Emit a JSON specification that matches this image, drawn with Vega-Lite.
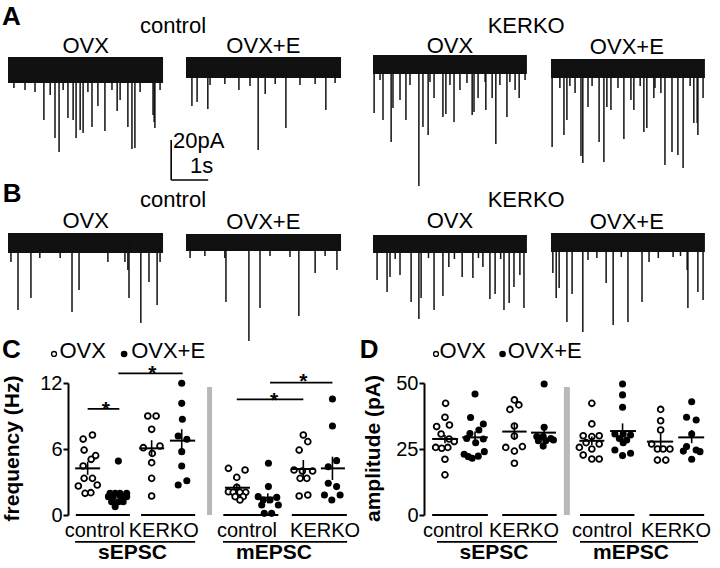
{
"$schema":"https://vega.github.io/schema/vega-lite/v6.json",
"width":720,"height":568,"padding":0,"autosize":{"type":"none"},
"background":"white",
"config":{"view":{"stroke":null},"font":"Liberation Sans","axis":{"grid":false},"text":{"font":"Liberation Sans","color":"black"}},
"datasets":{
"bands":[
{"trace":"T1","t0":0,"t1":4.19,"hi":0,"lo":-13},
{"trace":"T2","t0":0,"t1":4.19,"hi":0,"lo":-10.5},
{"trace":"T3","t0":0,"t1":4.16,"hi":0,"lo":-9.5},
{"trace":"T4","t0":0,"t1":4.16,"hi":0,"lo":-9.5},
{"trace":"T5","t0":0,"t1":4.19,"hi":0,"lo":-10},
{"trace":"T6","t0":0,"t1":4.19,"hi":0,"lo":-8.5},
{"trace":"T7","t0":0,"t1":4.16,"hi":0,"lo":-9},
{"trace":"T8","t0":0,"t1":4.16,"hi":0,"lo":-9.5}],
"spikes":[
{"trace":"T1","t":0.97,"i":-31.5},{"trace":"T1","t":1.27,"i":-40.5},{"trace":"T1","t":1.38,"i":-47.5},{"trace":"T1","t":1.62,"i":-30.5},{"trace":"T1","t":1.76,"i":-31.5},{"trace":"T1","t":1.84,"i":-40.5},{"trace":"T1","t":1.95,"i":-36.5},{"trace":"T1","t":2.03,"i":-38},{"trace":"T1","t":2.27,"i":-35},{"trace":"T1","t":2.43,"i":-24.5},{"trace":"T1","t":2.62,"i":-37},{"trace":"T1","t":2.95,"i":-27},{"trace":"T1","t":3.24,"i":-35},{"trace":"T1","t":3.35,"i":-46},{"trace":"T1","t":3.43,"i":-45.5},{"trace":"T1","t":3.92,"i":-29},{"trace":"T1","t":3.95,"i":-32.5},{"trace":"T1","t":3.97,"i":-35.5},
{"trace":"T1","t":0.16,"i":-15.5},{"trace":"T1","t":0.46,"i":-16.5},{"trace":"T1","t":0.73,"i":-17.5},{"trace":"T1","t":1.14,"i":-19},{"trace":"T1","t":1.49,"i":-16.5},{"trace":"T1","t":2.16,"i":-17.5},{"trace":"T1","t":2.81,"i":-16.5},{"trace":"T1","t":3.03,"i":-21.5},{"trace":"T1","t":3.57,"i":-17.5},{"trace":"T1","t":4.11,"i":-16.5},
{"trace":"T2","t":0.16,"i":-24.5},{"trace":"T2","t":0.3,"i":-22.5},{"trace":"T2","t":0.59,"i":-26},{"trace":"T2","t":1.43,"i":-16.5},{"trace":"T2","t":1.95,"i":-46.5},{"trace":"T2","t":2.14,"i":-18.5},{"trace":"T2","t":2.7,"i":-35.5},{"trace":"T2","t":3.78,"i":-26.5},
{"trace":"T2","t":0.65,"i":-14},{"trace":"T2","t":1.05,"i":-13.5},{"trace":"T2","t":1.73,"i":-14.5},{"trace":"T2","t":2.41,"i":-13.5},{"trace":"T2","t":3.08,"i":-14},{"trace":"T2","t":3.49,"i":-13.5},{"trace":"T2","t":4.03,"i":-13},
{"trace":"T3","t":0.03,"i":-29},{"trace":"T3","t":0.27,"i":-32.5},{"trace":"T3","t":0.49,"i":-43.5},{"trace":"T3","t":0.54,"i":-26.5},{"trace":"T3","t":0.73,"i":-22.5},{"trace":"T3","t":0.89,"i":-32.5},{"trace":"T3","t":1.24,"i":-65.5},{"trace":"T3","t":1.35,"i":-36},{"trace":"T3","t":1.49,"i":-40},{"trace":"T3","t":1.65,"i":-21.5},{"trace":"T3","t":1.89,"i":-31},{"trace":"T3","t":1.97,"i":-29.5},{"trace":"T3","t":2.19,"i":-33.5},{"trace":"T3","t":2.35,"i":-17.5},{"trace":"T3","t":2.54,"i":-14},{"trace":"T3","t":2.68,"i":-30},{"trace":"T3","t":2.73,"i":-28.5},{"trace":"T3","t":2.84,"i":-21.5},{"trace":"T3","t":3.05,"i":-27.5},{"trace":"T3","t":3.22,"i":-21.5},{"trace":"T3","t":3.32,"i":-44.5},{"trace":"T3","t":3.62,"i":-31},{"trace":"T3","t":3.84,"i":-17.5},{"trace":"T3","t":3.95,"i":-21.5},
{"trace":"T3","t":0.19,"i":-12.5},{"trace":"T3","t":1.0,"i":-15},{"trace":"T3","t":1.54,"i":-13.5},{"trace":"T3","t":2.08,"i":-15},{"trace":"T3","t":3.03,"i":-13.5},{"trace":"T3","t":3.43,"i":-15},{"trace":"T3","t":3.7,"i":-13.5},{"trace":"T3","t":4.11,"i":-12.5},
{"trace":"T4","t":0.03,"i":-44},{"trace":"T4","t":0.35,"i":-38},{"trace":"T4","t":0.43,"i":-30.5},{"trace":"T4","t":0.65,"i":-17},{"trace":"T4","t":0.81,"i":-48.5},{"trace":"T4","t":0.86,"i":-52},{"trace":"T4","t":1.0,"i":-24},{"trace":"T4","t":1.3,"i":-41.5},{"trace":"T4","t":1.43,"i":-51.5},{"trace":"T4","t":1.51,"i":-24},{"trace":"T4","t":1.62,"i":-25.5},{"trace":"T4","t":1.97,"i":-40},{"trace":"T4","t":2.16,"i":-20.5},{"trace":"T4","t":2.24,"i":-25.5},{"trace":"T4","t":2.51,"i":-36.5},{"trace":"T4","t":2.59,"i":-34.5},{"trace":"T4","t":2.78,"i":-19.5},{"trace":"T4","t":2.97,"i":-17},{"trace":"T4","t":3.08,"i":-53},{"trace":"T4","t":3.27,"i":-46.5},{"trace":"T4","t":3.43,"i":-48},{"trace":"T4","t":3.57,"i":-54.5},{"trace":"T4","t":3.86,"i":-32},{"trace":"T4","t":3.95,"i":-32},{"trace":"T4","t":3.97,"i":-38},{"trace":"T4","t":4.11,"i":-19.5},
{"trace":"T4","t":0.24,"i":-14.5},{"trace":"T4","t":0.51,"i":-13.5},{"trace":"T4","t":1.11,"i":-13.5},{"trace":"T4","t":1.81,"i":-14.5},{"trace":"T4","t":2.41,"i":-13.5},{"trace":"T4","t":2.81,"i":-14.5},{"trace":"T4","t":3.76,"i":-13.5},
{"trace":"T5","t":0.27,"i":-38.5},{"trace":"T5","t":0.62,"i":-32.5},{"trace":"T5","t":1.73,"i":-39.5},{"trace":"T5","t":1.92,"i":-28.5},{"trace":"T5","t":3.24,"i":-18.5},{"trace":"T5","t":3.27,"i":-32.5},{"trace":"T5","t":3.59,"i":-45},{"trace":"T5","t":3.81,"i":-24.5},{"trace":"T5","t":4.03,"i":-36},
{"trace":"T5","t":0.08,"i":-14.5},{"trace":"T5","t":0.86,"i":-12.5},{"trace":"T5","t":1.41,"i":-12.5},{"trace":"T5","t":2.7,"i":-14.5},{"trace":"T5","t":3.16,"i":-14.5},{"trace":"T5","t":4.11,"i":-14.5},
{"trace":"T6","t":1.08,"i":-34},{"trace":"T6","t":1.7,"i":-53.5},{"trace":"T6","t":2.0,"i":-37},{"trace":"T6","t":3.05,"i":-41},{"trace":"T6","t":3.49,"i":-19.5},{"trace":"T6","t":4.08,"i":-18},
{"trace":"T6","t":0.11,"i":-12},{"trace":"T6","t":0.51,"i":-11},{"trace":"T6","t":1.05,"i":-12},{"trace":"T6","t":2.27,"i":-11},{"trace":"T6","t":2.81,"i":-11.5},{"trace":"T6","t":3.76,"i":-11},
{"trace":"T7","t":0.11,"i":-22.5},{"trace":"T7","t":0.38,"i":-28.5},{"trace":"T7","t":0.46,"i":-21},{"trace":"T7","t":0.73,"i":-20},{"trace":"T7","t":1.03,"i":-33.5},{"trace":"T7","t":1.24,"i":-42},{"trace":"T7","t":1.3,"i":-31.5},{"trace":"T7","t":1.65,"i":-37.5},{"trace":"T7","t":1.89,"i":-30.5},{"trace":"T7","t":2.05,"i":-16},{"trace":"T7","t":2.41,"i":-21},{"trace":"T7","t":2.7,"i":-21.5},{"trace":"T7","t":2.97,"i":-16},{"trace":"T7","t":3.16,"i":-32},{"trace":"T7","t":3.3,"i":-29.5},{"trace":"T7","t":3.54,"i":-37.5},{"trace":"T7","t":3.68,"i":-34},{"trace":"T7","t":3.81,"i":-26},{"trace":"T7","t":3.97,"i":-20},{"trace":"T7","t":4.08,"i":-36.5},
{"trace":"T7","t":0.6,"i":-12},{"trace":"T7","t":1.5,"i":-11.5},{"trace":"T7","t":2.2,"i":-12},{"trace":"T7","t":2.85,"i":-11.5},{"trace":"T7","t":3.45,"i":-12},
{"trace":"T8","t":0.05,"i":-20},{"trace":"T8","t":0.14,"i":-32.5},{"trace":"T8","t":0.22,"i":-27.5},{"trace":"T8","t":0.43,"i":-44.5},{"trace":"T8","t":0.57,"i":-30.5},{"trace":"T8","t":0.86,"i":-49.5},{"trace":"T8","t":1.0,"i":-13.5},{"trace":"T8","t":1.24,"i":-12.5},{"trace":"T8","t":1.49,"i":-25},{"trace":"T8","t":1.68,"i":-46},{"trace":"T8","t":2.08,"i":-44.5},{"trace":"T8","t":2.46,"i":-34.5},{"trace":"T8","t":2.65,"i":-14.5},{"trace":"T8","t":3.68,"i":-18.5},{"trace":"T8","t":3.7,"i":-37.5},{"trace":"T8","t":3.97,"i":-29.5},{"trace":"T8","t":4.11,"i":-33.5},
{"trace":"T8","t":1.9,"i":-12},{"trace":"T8","t":2.9,"i":-12.5},{"trace":"T8","t":3.3,"i":-12},{"trace":"T8","t":3.5,"i":-11.5}],
"tlabels":[
{"trace":"T1","label":"OVX","t":2.1,"i":2},{"trace":"T1","label":"control","t":4.46,"i":12},
{"trace":"T2","label":"OVX+E","t":2.09,"i":2},
{"trace":"T3","label":"OVX","t":2.08,"i":1},{"trace":"T3","label":"KERKO","t":4.14,"i":11},
{"trace":"T4","label":"OVX+E","t":2.05,"i":2.5},
{"trace":"T5","label":"OVX","t":2.1,"i":2.5},{"trace":"T5","label":"control","t":4.46,"i":13.25},
{"trace":"T6","label":"OVX+E","t":2.09,"i":2.5},
{"trace":"T7","label":"OVX","t":2.08,"i":3.5},{"trace":"T7","label":"KERKO","t":4.14,"i":14.25},
{"trace":"T8","label":"OVX+E","t":2.05,"i":2}],
"tletters":[{"trace":"T1","label":"A","t":-0.16,"i":16},{"trace":"T5","label":"B","t":-0.14,"i":15.65}],
"sbar":[{"t":4.41,"i":-41.5,"t2":4.41,"i2":-61.5},{"t":4.41,"i":-61.5,"t2":5.41,"i2":-61.5}],
"stext":[{"label":"20pA","t":4.46,"i":-45.5},{"label":"1s","t":4.92,"i":-58}],
"points":[
{"p":"C","g":"open","x":0.88,"v":6.9},{"p":"C","g":"open","x":1.17,"v":7.27},{"p":"C","g":"open","x":0.91,"v":5.9},{"p":"C","g":"open","x":1.27,"v":5.4},{"p":"C","g":"open","x":1.13,"v":5.06},{"p":"C","g":"open","x":0.88,"v":4.45},{"p":"C","g":"open","x":0.91,"v":3.33},{"p":"C","g":"open","x":1.17,"v":3.33},{"p":"C","g":"open","x":0.73,"v":2.64},{"p":"C","g":"open","x":1.32,"v":2.73},{"p":"C","g":"open","x":0.94,"v":1.97},{"p":"C","g":"open","x":1.12,"v":2.03},
{"p":"C","g":"open","x":2.9,"v":9.0},{"p":"C","g":"open","x":3.16,"v":9.0},{"p":"C","g":"open","x":3.02,"v":7.79},{"p":"C","g":"open","x":2.76,"v":6.12},{"p":"C","g":"open","x":3.28,"v":6.27},{"p":"C","g":"open","x":3.04,"v":5.6},{"p":"C","g":"open","x":3.02,"v":4.76},{"p":"C","g":"open","x":3.02,"v":3.33},{"p":"C","g":"open","x":3.02,"v":1.73},
{"p":"C","g":"open","x":5.42,"v":4.24},{"p":"C","g":"open","x":5.94,"v":4.09},{"p":"C","g":"open","x":5.68,"v":3.42},{"p":"C","g":"open","x":5.68,"v":2.52},{"p":"C","g":"open","x":5.42,"v":2.12},{"p":"C","g":"open","x":5.57,"v":2.06},{"p":"C","g":"open","x":5.78,"v":2.06},{"p":"C","g":"open","x":5.96,"v":2.06},{"p":"C","g":"open","x":5.63,"v":1.67},{"p":"C","g":"open","x":5.88,"v":1.67},{"p":"C","g":"open","x":5.78,"v":1.36},
{"p":"C","g":"open","x":7.76,"v":7.27},{"p":"C","g":"open","x":7.9,"v":6.67},{"p":"C","g":"open","x":7.63,"v":5.9},{"p":"C","g":"open","x":7.47,"v":4.09},{"p":"C","g":"open","x":7.73,"v":4.0},{"p":"C","g":"open","x":8.05,"v":4.0},{"p":"C","g":"open","x":7.66,"v":3.33},{"p":"C","g":"open","x":7.87,"v":3.33},{"p":"C","g":"open","x":7.63,"v":1.73},{"p":"C","g":"open","x":7.9,"v":1.82},
{"p":"C","g":"filled","x":1.98,"v":4.9},{"p":"C","g":"filled","x":1.72,"v":1.97},{"p":"C","g":"filled","x":1.88,"v":1.97},{"p":"C","g":"filled","x":2.03,"v":1.97},{"p":"C","g":"filled","x":2.24,"v":1.97},{"p":"C","g":"filled","x":1.67,"v":1.67},{"p":"C","g":"filled","x":1.82,"v":1.67},{"p":"C","g":"filled","x":2.08,"v":1.67},{"p":"C","g":"filled","x":2.24,"v":1.67},{"p":"C","g":"filled","x":1.77,"v":1.21},{"p":"C","g":"filled","x":1.98,"v":1.21},{"p":"C","g":"filled","x":2.13,"v":1.21},{"p":"C","g":"filled","x":1.88,"v":0.76},
{"p":"C","g":"filled","x":3.96,"v":11.97},{"p":"C","g":"filled","x":3.96,"v":10.15},{"p":"C","g":"filled","x":3.98,"v":8.7},{"p":"C","g":"filled","x":3.85,"v":7.18},{"p":"C","g":"filled","x":4.12,"v":6.88},{"p":"C","g":"filled","x":3.96,"v":5.76},{"p":"C","g":"filled","x":3.96,"v":4.45},{"p":"C","g":"filled","x":3.85,"v":2.73},{"p":"C","g":"filled","x":4.12,"v":3.12},
{"p":"C","g":"filled","x":6.67,"v":4.7},{"p":"C","g":"filled","x":6.67,"v":2.58},{"p":"C","g":"filled","x":6.35,"v":1.67},{"p":"C","g":"filled","x":6.51,"v":1.36},{"p":"C","g":"filled","x":6.72,"v":1.36},{"p":"C","g":"filled","x":6.93,"v":1.6},{"p":"C","g":"filled","x":6.46,"v":0.91},{"p":"C","g":"filled","x":6.98,"v":0.91},{"p":"C","g":"filled","x":6.54,"v":0.15},{"p":"C","g":"filled","x":6.77,"v":0.15},
{"p":"C","g":"filled","x":8.67,"v":10.55},{"p":"C","g":"filled","x":8.67,"v":8.09},{"p":"C","g":"filled","x":8.8,"v":4.94},{"p":"C","g":"filled","x":8.54,"v":4.39},{"p":"C","g":"filled","x":8.54,"v":2.88},{"p":"C","g":"filled","x":8.8,"v":2.58},{"p":"C","g":"filled","x":8.42,"v":1.82},{"p":"C","g":"filled","x":8.91,"v":1.82},{"p":"C","g":"filled","x":8.65,"v":1.36},
{"p":"D","g":"open","x":1.05,"v":42.3},{"p":"D","g":"open","x":1.03,"v":37.0},{"p":"D","g":"open","x":0.77,"v":33.5},{"p":"D","g":"open","x":1.17,"v":34.1},{"p":"D","g":"open","x":0.91,"v":30.7},{"p":"D","g":"open","x":1.16,"v":28.8},{"p":"D","g":"open","x":1.32,"v":27.8},{"p":"D","g":"open","x":0.74,"v":25.6},{"p":"D","g":"open","x":0.93,"v":25.3},{"p":"D","g":"open","x":1.12,"v":25.6},{"p":"D","g":"open","x":1.03,"v":21.1},{"p":"D","g":"open","x":1.03,"v":15.2},
{"p":"D","g":"open","x":3.2,"v":43.6},{"p":"D","g":"open","x":3.06,"v":40.0},{"p":"D","g":"open","x":3.34,"v":41.7},{"p":"D","g":"open","x":3.2,"v":33.7},{"p":"D","g":"open","x":3.2,"v":29.9},{"p":"D","g":"open","x":2.93,"v":25.6},{"p":"D","g":"open","x":3.45,"v":25.9},{"p":"D","g":"open","x":3.2,"v":24.2},{"p":"D","g":"open","x":3.2,"v":19.6},
{"p":"D","g":"open","x":5.62,"v":42.3},{"p":"D","g":"open","x":5.62,"v":34.5},{"p":"D","g":"open","x":5.35,"v":30.0},{"p":"D","g":"open","x":5.62,"v":29.7},{"p":"D","g":"open","x":5.85,"v":30.0},{"p":"D","g":"open","x":5.23,"v":25.6},{"p":"D","g":"open","x":5.44,"v":27.4},{"p":"D","g":"open","x":5.62,"v":25.0},{"p":"D","g":"open","x":5.85,"v":26.9},{"p":"D","g":"open","x":5.35,"v":22.7},{"p":"D","g":"open","x":5.62,"v":21.2},{"p":"D","g":"open","x":5.85,"v":21.2},
{"p":"D","g":"open","x":7.77,"v":40.0},{"p":"D","g":"open","x":7.77,"v":35.7},{"p":"D","g":"open","x":7.77,"v":32.2},{"p":"D","g":"open","x":7.49,"v":26.9},{"p":"D","g":"open","x":7.67,"v":25.0},{"p":"D","g":"open","x":7.85,"v":25.0},{"p":"D","g":"open","x":8.06,"v":25.0},{"p":"D","g":"open","x":7.67,"v":20.8},{"p":"D","g":"open","x":7.93,"v":20.8},
{"p":"D","g":"filled","x":1.97,"v":45.8},{"p":"D","g":"filled","x":1.83,"v":36.9},{"p":"D","g":"filled","x":2.23,"v":34.5},{"p":"D","g":"filled","x":2.09,"v":32.2},{"p":"D","g":"filled","x":1.81,"v":30.9},{"p":"D","g":"filled","x":1.71,"v":29.0},{"p":"D","g":"filled","x":2.23,"v":28.8},{"p":"D","g":"filled","x":1.99,"v":27.4},{"p":"D","g":"filled","x":1.63,"v":23.0},{"p":"D","g":"filled","x":1.76,"v":22.1},{"p":"D","g":"filled","x":1.88,"v":21.5},{"p":"D","g":"filled","x":2.07,"v":22.3},{"p":"D","g":"filled","x":2.26,"v":24.0},
{"p":"D","g":"filled","x":4.13,"v":49.6},{"p":"D","g":"filled","x":4.13,"v":33.2},{"p":"D","g":"filled","x":3.9,"v":29.7},{"p":"D","g":"filled","x":4.1,"v":29.7},{"p":"D","g":"filled","x":4.34,"v":29.0},{"p":"D","g":"filled","x":3.95,"v":28.1},{"p":"D","g":"filled","x":4.18,"v":28.1},{"p":"D","g":"filled","x":4.42,"v":28.4},{"p":"D","g":"filled","x":4.1,"v":26.1},
{"p":"D","g":"filled","x":6.58,"v":49.6},{"p":"D","g":"filled","x":6.58,"v":45.5},{"p":"D","g":"filled","x":6.58,"v":40.8},{"p":"D","g":"filled","x":6.34,"v":30.7},{"p":"D","g":"filled","x":6.6,"v":30.7},{"p":"D","g":"filled","x":6.83,"v":30.3},{"p":"D","g":"filled","x":6.48,"v":29.0},{"p":"D","g":"filled","x":6.71,"v":28.4},{"p":"D","g":"filled","x":6.6,"v":27.4},{"p":"D","g":"filled","x":6.34,"v":24.6},{"p":"D","g":"filled","x":6.58,"v":22.5},{"p":"D","g":"filled","x":6.83,"v":23.4},
{"p":"D","g":"filled","x":8.74,"v":42.9},{"p":"D","g":"filled","x":8.58,"v":37.0},{"p":"D","g":"filled","x":8.88,"v":36.0},{"p":"D","g":"filled","x":8.74,"v":30.7},{"p":"D","g":"filled","x":8.58,"v":25.9},{"p":"D","g":"filled","x":8.48,"v":24.2},{"p":"D","g":"filled","x":8.88,"v":24.6},{"p":"D","g":"filled","x":9.0,"v":24.0},{"p":"D","g":"filled","x":8.74,"v":21.1}],
"means":[
{"p":"C","x0":0.63,"x1":1.41,"m":4.24,"xc":1.02,"lo":3.65,"hi":4.85},
{"p":"C","x0":1.58,"x1":2.34,"m":1.82,"xc":1.96,"lo":1.55,"hi":2.1},
{"p":"C","x0":2.63,"x1":3.41,"m":6.06,"xc":3.02,"lo":5.3,"hi":6.8},
{"p":"C","x0":3.59,"x1":4.38,"m":6.76,"xc":3.96,"lo":5.75,"hi":7.8},
{"p":"C","x0":5.31,"x1":6.09,"m":2.48,"xc":5.68,"lo":2.1,"hi":2.85},
{"p":"C","x0":6.25,"x1":7.03,"m":1.58,"xc":6.65,"lo":1.06,"hi":1.97},
{"p":"C","x0":7.38,"x1":8.13,"m":4.18,"xc":7.76,"lo":3.33,"hi":5.0},
{"p":"C","x0":8.31,"x1":9.06,"m":4.24,"xc":8.67,"lo":3.18,"hi":5.3},
{"p":"D","x0":0.63,"x1":1.44,"m":28.8,"xc":1.03,"lo":27.2,"hi":30.3},
{"p":"D","x0":1.57,"x1":2.37,"m":29.4,"xc":1.97,"lo":27.2,"hi":31.6},
{"p":"D","x0":2.82,"x1":3.58,"m":31.6,"xc":3.2,"lo":28.4,"hi":34.7},
{"p":"D","x0":3.72,"x1":4.5,"m":31.2,"xc":4.13,"lo":29.7,"hi":32.8},
{"p":"D","x0":5.23,"x1":6.01,"m":28.1,"xc":5.62,"lo":26.5,"hi":29.7},
{"p":"D","x0":6.19,"x1":7.0,"m":31.8,"xc":6.58,"lo":28.4,"hi":34.7},
{"p":"D","x0":7.34,"x1":8.16,"m":27.8,"xc":7.77,"lo":24.6,"hi":30.9},
{"p":"D","x0":8.32,"x1":9.13,"m":29.4,"xc":8.74,"lo":27.2,"hi":32.2}],
"hlines":[
{"p":"C","x0":0.65,"x1":2.34,"y":0},{"p":"C","x0":2.69,"x1":4.38,"y":0},{"p":"C","x0":5.26,"x1":6.98,"y":0},{"p":"C","x0":7.4,"x1":9.12,"y":0},
{"p":"C","x0":0.63,"x1":4.38,"y":-2.45},{"p":"C","x0":5.25,"x1":9.13,"y":-2.45},
{"p":"C","x0":1.02,"x1":2.01,"y":9.64},{"p":"C","x0":1.98,"x1":3.99,"y":12.88},{"p":"C","x0":5.68,"x1":7.76,"y":10.52},{"p":"C","x0":6.72,"x1":8.67,"y":12.03},
{"p":"D","x0":0.63,"x1":2.37,"y":0},{"p":"D","x0":2.82,"x1":4.52,"y":0},{"p":"D","x0":5.25,"x1":6.95,"y":0},{"p":"D","x0":7.42,"x1":9.13,"y":0},
{"p":"D","x0":0.78,"x1":4.53,"y":-10.2},{"p":"D","x0":5.25,"x1":8.94,"y":-10.2}],
"sep":[{"p":"C","x":4.83,"y0":0,"y1":11.64},{"p":"D","x":4.84,"y0":0,"y1":48.5}],
"stars":[{"p":"C","x":1.59,"y":9.0},{"p":"C","x":3.04,"y":12.25},{"p":"C","x":6.85,"y":9.85},{"p":"C","x":7.76,"y":11.55}],
"cats":[
{"p":"C","label":"control","x":1.24,"y":-2.0},{"p":"C","label":"KERKO","x":3.4,"y":-2.0},{"p":"C","label":"control","x":6.0,"y":-2.0},{"p":"C","label":"KERKO","x":8.44,"y":-2.0},
{"p":"D","label":"control","x":1.28,"y":-8.33},{"p":"D","label":"KERKO","x":3.5,"y":-8.33},{"p":"D","label":"control","x":5.94,"y":-8.33},{"p":"D","label":"KERKO","x":8.25,"y":-8.33}],
"groups":[
{"p":"C","label":"sEPSC","x":2.42,"y":-4.0},{"p":"C","label":"mEPSC","x":6.84,"y":-4.0},
{"p":"D","label":"sEPSC","x":2.56,"y":-16.67},{"p":"D","label":"mEPSC","x":6.84,"y":-16.67}],
"legsym":[{"p":"C","g":"open","x":-0.03,"y":14.64},{"p":"C","g":"filled","x":2.16,"y":14.64},{"p":"D","g":"open","x":0.75,"y":61.0},{"p":"D","g":"filled","x":2.83,"y":61.0}],
"legtext":[{"p":"C","label":"OVX","x":0.14,"y":14.27},{"p":"C","label":"OVX+E","x":2.38,"y":14.27},{"p":"D","label":"OVX","x":0.86,"y":59.47},{"p":"D","label":"OVX+E","x":2.99,"y":59.47}],
"pletters":[{"p":"C","label":"C","x":-1.66,"y":14.27},{"p":"D","label":"D","x":-1.63,"y":59.47}]
},
"resolve":{"scale":{"x":"independent","y":"independent"}},
"layer":[
 {"data":{"name":"points"},"transform":[{"filter":"datum.p==='C' && datum.g==='open'"}],"mark":{"type":"point","shape":"circle","filled":true,"fill":"white","stroke":"black","strokeWidth":1.8,"size":34,"opacity":1},
  "encoding":{"x":{"field":"x","type":"quantitative","scale":{"domain":[0,10],"range":[55,375],"nice":false,"zero":false},"axis":null},
   "y":{"field":"v","type":"quantitative","scale":{"domain":[0,12],"range":[515,383],"nice":false,"zero":false},
    "axis":{"orient":"left","offset":-68,"values":[0,6,12],"title":"frequency (Hz)","titleFontSize":21,"titleFontWeight":"bold","titleColor":"black","titleFont":"Liberation Sans","titleX":-46,"titleY":448,"titleAngle":-90,"titleAlign":"center","titleBaseline":"bottom","labelFontSize":20,"labelFont":"Liberation Sans","labelColor":"black","labelPadding":1,"tickSize":5,"tickWidth":2,"tickColor":"black","domainColor":"black","domainWidth":2,"grid":false,"labelFlush":false,"labelOverlap":false}}}},
 {"data":{"name":"points"},"transform":[{"filter":"datum.p==='D' && datum.g==='open'"}],"mark":{"type":"point","shape":"circle","filled":true,"fill":"white","stroke":"black","strokeWidth":1.8,"size":34,"opacity":1},
  "encoding":{"x":{"field":"x","type":"quantitative","scale":{"domain":[0,10],"range":[412,732],"nice":false,"zero":false},"axis":null},
   "y":{"field":"v","type":"quantitative","scale":{"domain":[0,50],"range":[515,383],"nice":false,"zero":false},
    "axis":{"orient":"left","offset":-424,"values":[0,25,50],"title":"amplitude (pA)","titleFontSize":21,"titleFontWeight":"bold","titleColor":"black","titleFont":"Liberation Sans","titleX":-41,"titleY":448,"titleAngle":-90,"titleAlign":"center","titleBaseline":"bottom","labelFontSize":20,"labelFont":"Liberation Sans","labelColor":"black","labelPadding":1,"tickSize":5,"tickWidth":2,"tickColor":"black","domainColor":"black","domainWidth":2,"grid":false,"labelFlush":false,"labelOverlap":false}}}},
 {"data":{"name":"bands"},"transform":[{"filter":"datum.trace==='T1'"}],"mark":{"type":"rect","color":"#111"},
  "encoding":{"x":{"field":"t0","type":"quantitative","scale":{"domain":[0,4.2],"range":[8,163.4],"nice":false,"zero":false},"axis":null},"x2":{"field":"t1"},"y":{"field":"hi","type":"quantitative","scale":{"domain":[-70,10],"range":[197,37],"nice":false,"zero":false},"axis":null},"y2":{"field":"lo"}}},
 {"data":{"name":"spikes"},"transform":[{"filter":"datum.trace==='T1'"}],"mark":{"type":"rule","color":"#111","strokeWidth":1.5},
  "encoding":{"x":{"field":"t","type":"quantitative","scale":{"domain":[0,4.2],"range":[8,163.4],"nice":false,"zero":false},"axis":null},"y":{"field":"i","type":"quantitative","scale":{"domain":[-70,10],"range":[197,37],"nice":false,"zero":false},"axis":null},"y2":{"datum":-4}}},
 {"data":{"name":"tlabels"},"transform":[{"filter":"datum.trace==='T1'"}],"mark":{"type":"text","fontSize":22,"align":"center","baseline":"alphabetic","color":"black"},
  "encoding":{"x":{"field":"t","type":"quantitative","scale":{"domain":[0,4.2],"range":[8,163.4],"nice":false,"zero":false},"axis":null},"y":{"field":"i","type":"quantitative","scale":{"domain":[-70,10],"range":[197,37],"nice":false,"zero":false},"axis":null},"text":{"field":"label"}}},
 {"data":{"name":"tletters"},"transform":[{"filter":"datum.trace==='T1'"}],"mark":{"type":"text","fontSize":26,"fontWeight":"bold","align":"left","baseline":"alphabetic","color":"black"},
  "encoding":{"x":{"field":"t","type":"quantitative","scale":{"domain":[0,4.2],"range":[8,163.4],"nice":false,"zero":false},"axis":null},"y":{"field":"i","type":"quantitative","scale":{"domain":[-70,10],"range":[197,37],"nice":false,"zero":false},"axis":null},"text":{"field":"label"}}},
 {"data":{"name":"sbar"},"mark":{"type":"rule","color":"black","strokeWidth":1.6},
  "encoding":{"x":{"field":"t","type":"quantitative","scale":{"domain":[0,4.2],"range":[8,163.4],"nice":false,"zero":false},"axis":null},"x2":{"field":"t2"},"y":{"field":"i","type":"quantitative","scale":{"domain":[-70,10],"range":[197,37],"nice":false,"zero":false},"axis":null},"y2":{"field":"i2"}}},
 {"data":{"name":"stext"},"mark":{"type":"text","fontSize":22,"align":"left","baseline":"alphabetic","color":"black"},
  "encoding":{"x":{"field":"t","type":"quantitative","scale":{"domain":[0,4.2],"range":[8,163.4],"nice":false,"zero":false},"axis":null},"y":{"field":"i","type":"quantitative","scale":{"domain":[-70,10],"range":[197,37],"nice":false,"zero":false},"axis":null},"text":{"field":"label"}}},
 {"data":{"name":"bands"},"transform":[{"filter":"datum.trace==='T2'"}],"mark":{"type":"rect","color":"#111"},
  "encoding":{"x":{"field":"t0","type":"quantitative","scale":{"domain":[0,4.2],"range":[186,341.4],"nice":false,"zero":false},"axis":null},"x2":{"field":"t1"},"y":{"field":"hi","type":"quantitative","scale":{"domain":[-70,10],"range":[197,37],"nice":false,"zero":false},"axis":null},"y2":{"field":"lo"}}},
 {"data":{"name":"spikes"},"transform":[{"filter":"datum.trace==='T2'"}],"mark":{"type":"rule","color":"#111","strokeWidth":1.5},
  "encoding":{"x":{"field":"t","type":"quantitative","scale":{"domain":[0,4.2],"range":[186,341.4],"nice":false,"zero":false},"axis":null},"y":{"field":"i","type":"quantitative","scale":{"domain":[-70,10],"range":[197,37],"nice":false,"zero":false},"axis":null},"y2":{"datum":-4}}},
 {"data":{"name":"tlabels"},"transform":[{"filter":"datum.trace==='T2'"}],"mark":{"type":"text","fontSize":22,"align":"center","baseline":"alphabetic","color":"black"},
  "encoding":{"x":{"field":"t","type":"quantitative","scale":{"domain":[0,4.2],"range":[186,341.4],"nice":false,"zero":false},"axis":null},"y":{"field":"i","type":"quantitative","scale":{"domain":[-70,10],"range":[197,37],"nice":false,"zero":false},"axis":null},"text":{"field":"label"}}},
 {"data":{"name":"bands"},"transform":[{"filter":"datum.trace==='T3'"}],"mark":{"type":"rect","color":"#111"},
  "encoding":{"x":{"field":"t0","type":"quantitative","scale":{"domain":[0,4.2],"range":[373,528.4],"nice":false,"zero":false},"axis":null},"x2":{"field":"t1"},"y":{"field":"hi","type":"quantitative","scale":{"domain":[-70,10],"range":[195,35],"nice":false,"zero":false},"axis":null},"y2":{"field":"lo"}}},
 {"data":{"name":"spikes"},"transform":[{"filter":"datum.trace==='T3'"}],"mark":{"type":"rule","color":"#111","strokeWidth":1.5},
  "encoding":{"x":{"field":"t","type":"quantitative","scale":{"domain":[0,4.2],"range":[373,528.4],"nice":false,"zero":false},"axis":null},"y":{"field":"i","type":"quantitative","scale":{"domain":[-70,10],"range":[195,35],"nice":false,"zero":false},"axis":null},"y2":{"datum":-4}}},
 {"data":{"name":"tlabels"},"transform":[{"filter":"datum.trace==='T3'"}],"mark":{"type":"text","fontSize":22,"align":"center","baseline":"alphabetic","color":"black"},
  "encoding":{"x":{"field":"t","type":"quantitative","scale":{"domain":[0,4.2],"range":[373,528.4],"nice":false,"zero":false},"axis":null},"y":{"field":"i","type":"quantitative","scale":{"domain":[-70,10],"range":[195,35],"nice":false,"zero":false},"axis":null},"text":{"field":"label"}}},
 {"data":{"name":"bands"},"transform":[{"filter":"datum.trace==='T4'"}],"mark":{"type":"rect","color":"#111"},
  "encoding":{"x":{"field":"t0","type":"quantitative","scale":{"domain":[0,4.2],"range":[551,706.4],"nice":false,"zero":false},"axis":null},"x2":{"field":"t1"},"y":{"field":"hi","type":"quantitative","scale":{"domain":[-70,10],"range":[199,39],"nice":false,"zero":false},"axis":null},"y2":{"field":"lo"}}},
 {"data":{"name":"spikes"},"transform":[{"filter":"datum.trace==='T4'"}],"mark":{"type":"rule","color":"#111","strokeWidth":1.5},
  "encoding":{"x":{"field":"t","type":"quantitative","scale":{"domain":[0,4.2],"range":[551,706.4],"nice":false,"zero":false},"axis":null},"y":{"field":"i","type":"quantitative","scale":{"domain":[-70,10],"range":[199,39],"nice":false,"zero":false},"axis":null},"y2":{"datum":-4}}},
 {"data":{"name":"tlabels"},"transform":[{"filter":"datum.trace==='T4'"}],"mark":{"type":"text","fontSize":22,"align":"center","baseline":"alphabetic","color":"black"},
  "encoding":{"x":{"field":"t","type":"quantitative","scale":{"domain":[0,4.2],"range":[551,706.4],"nice":false,"zero":false},"axis":null},"y":{"field":"i","type":"quantitative","scale":{"domain":[-70,10],"range":[199,39],"nice":false,"zero":false},"axis":null},"text":{"field":"label"}}},
 {"data":{"name":"bands"},"transform":[{"filter":"datum.trace==='T5'"}],"mark":{"type":"rect","color":"#111"},
  "encoding":{"x":{"field":"t0","type":"quantitative","scale":{"domain":[0,4.2],"range":[8,163.4],"nice":false,"zero":false},"axis":null},"x2":{"field":"t1"},"y":{"field":"hi","type":"quantitative","scale":{"domain":[-70,10],"range":[373,213],"nice":false,"zero":false},"axis":null},"y2":{"field":"lo"}}},
 {"data":{"name":"spikes"},"transform":[{"filter":"datum.trace==='T5'"}],"mark":{"type":"rule","color":"#111","strokeWidth":1.5},
  "encoding":{"x":{"field":"t","type":"quantitative","scale":{"domain":[0,4.2],"range":[8,163.4],"nice":false,"zero":false},"axis":null},"y":{"field":"i","type":"quantitative","scale":{"domain":[-70,10],"range":[373,213],"nice":false,"zero":false},"axis":null},"y2":{"datum":-4}}},
 {"data":{"name":"tlabels"},"transform":[{"filter":"datum.trace==='T5'"}],"mark":{"type":"text","fontSize":22,"align":"center","baseline":"alphabetic","color":"black"},
  "encoding":{"x":{"field":"t","type":"quantitative","scale":{"domain":[0,4.2],"range":[8,163.4],"nice":false,"zero":false},"axis":null},"y":{"field":"i","type":"quantitative","scale":{"domain":[-70,10],"range":[373,213],"nice":false,"zero":false},"axis":null},"text":{"field":"label"}}},
 {"data":{"name":"tletters"},"transform":[{"filter":"datum.trace==='T5'"}],"mark":{"type":"text","fontSize":26,"fontWeight":"bold","align":"left","baseline":"alphabetic","color":"black"},
  "encoding":{"x":{"field":"t","type":"quantitative","scale":{"domain":[0,4.2],"range":[8,163.4],"nice":false,"zero":false},"axis":null},"y":{"field":"i","type":"quantitative","scale":{"domain":[-70,10],"range":[373,213],"nice":false,"zero":false},"axis":null},"text":{"field":"label"}}},
 {"data":{"name":"bands"},"transform":[{"filter":"datum.trace==='T6'"}],"mark":{"type":"rect","color":"#111"},
  "encoding":{"x":{"field":"t0","type":"quantitative","scale":{"domain":[0,4.2],"range":[186,341.4],"nice":false,"zero":false},"axis":null},"x2":{"field":"t1"},"y":{"field":"hi","type":"quantitative","scale":{"domain":[-70,10],"range":[374,214],"nice":false,"zero":false},"axis":null},"y2":{"field":"lo"}}},
 {"data":{"name":"spikes"},"transform":[{"filter":"datum.trace==='T6'"}],"mark":{"type":"rule","color":"#111","strokeWidth":1.5},
  "encoding":{"x":{"field":"t","type":"quantitative","scale":{"domain":[0,4.2],"range":[186,341.4],"nice":false,"zero":false},"axis":null},"y":{"field":"i","type":"quantitative","scale":{"domain":[-70,10],"range":[374,214],"nice":false,"zero":false},"axis":null},"y2":{"datum":-4}}},
 {"data":{"name":"tlabels"},"transform":[{"filter":"datum.trace==='T6'"}],"mark":{"type":"text","fontSize":22,"align":"center","baseline":"alphabetic","color":"black"},
  "encoding":{"x":{"field":"t","type":"quantitative","scale":{"domain":[0,4.2],"range":[186,341.4],"nice":false,"zero":false},"axis":null},"y":{"field":"i","type":"quantitative","scale":{"domain":[-70,10],"range":[374,214],"nice":false,"zero":false},"axis":null},"text":{"field":"label"}}},
 {"data":{"name":"bands"},"transform":[{"filter":"datum.trace==='T7'"}],"mark":{"type":"rect","color":"#111"},
  "encoding":{"x":{"field":"t0","type":"quantitative","scale":{"domain":[0,4.2],"range":[373,528.4],"nice":false,"zero":false},"axis":null},"x2":{"field":"t1"},"y":{"field":"hi","type":"quantitative","scale":{"domain":[-70,10],"range":[375,215],"nice":false,"zero":false},"axis":null},"y2":{"field":"lo"}}},
 {"data":{"name":"spikes"},"transform":[{"filter":"datum.trace==='T7'"}],"mark":{"type":"rule","color":"#111","strokeWidth":1.5},
  "encoding":{"x":{"field":"t","type":"quantitative","scale":{"domain":[0,4.2],"range":[373,528.4],"nice":false,"zero":false},"axis":null},"y":{"field":"i","type":"quantitative","scale":{"domain":[-70,10],"range":[375,215],"nice":false,"zero":false},"axis":null},"y2":{"datum":-4}}},
 {"data":{"name":"tlabels"},"transform":[{"filter":"datum.trace==='T7'"}],"mark":{"type":"text","fontSize":22,"align":"center","baseline":"alphabetic","color":"black"},
  "encoding":{"x":{"field":"t","type":"quantitative","scale":{"domain":[0,4.2],"range":[373,528.4],"nice":false,"zero":false},"axis":null},"y":{"field":"i","type":"quantitative","scale":{"domain":[-70,10],"range":[375,215],"nice":false,"zero":false},"axis":null},"text":{"field":"label"}}},
 {"data":{"name":"bands"},"transform":[{"filter":"datum.trace==='T8'"}],"mark":{"type":"rect","color":"#111"},
  "encoding":{"x":{"field":"t0","type":"quantitative","scale":{"domain":[0,4.2],"range":[551,706.4],"nice":false,"zero":false},"axis":null},"x2":{"field":"t1"},"y":{"field":"hi","type":"quantitative","scale":{"domain":[-70,10],"range":[373,213],"nice":false,"zero":false},"axis":null},"y2":{"field":"lo"}}},
 {"data":{"name":"spikes"},"transform":[{"filter":"datum.trace==='T8'"}],"mark":{"type":"rule","color":"#111","strokeWidth":1.5},
  "encoding":{"x":{"field":"t","type":"quantitative","scale":{"domain":[0,4.2],"range":[551,706.4],"nice":false,"zero":false},"axis":null},"y":{"field":"i","type":"quantitative","scale":{"domain":[-70,10],"range":[373,213],"nice":false,"zero":false},"axis":null},"y2":{"datum":-4}}},
 {"data":{"name":"tlabels"},"transform":[{"filter":"datum.trace==='T8'"}],"mark":{"type":"text","fontSize":22,"align":"center","baseline":"alphabetic","color":"black"},
  "encoding":{"x":{"field":"t","type":"quantitative","scale":{"domain":[0,4.2],"range":[551,706.4],"nice":false,"zero":false},"axis":null},"y":{"field":"i","type":"quantitative","scale":{"domain":[-70,10],"range":[373,213],"nice":false,"zero":false},"axis":null},"text":{"field":"label"}}},
 {"data":{"name":"sep"},"transform":[{"filter":"datum.p==='C'"}],"mark":{"type":"rule","color":"#b8b8b8","strokeWidth":5},
  "encoding":{"x":{"field":"x","type":"quantitative","scale":{"domain":[0,10],"range":[55,375],"nice":false,"zero":false},"axis":null},"y":{"field":"y0","type":"quantitative","scale":{"domain":[0,12],"range":[515,383],"nice":false,"zero":false},"axis":null},"y2":{"field":"y1"}}},
 {"data":{"name":"hlines"},"transform":[{"filter":"datum.p==='C'"}],"mark":{"type":"rule","color":"black","strokeWidth":1.8},
  "encoding":{"x":{"field":"x0","type":"quantitative","scale":{"domain":[0,10],"range":[55,375],"nice":false,"zero":false},"axis":null},"x2":{"field":"x1"},"y":{"field":"y","type":"quantitative","scale":{"domain":[0,12],"range":[515,383],"nice":false,"zero":false},"axis":null}}},
 {"data":{"name":"points"},"transform":[{"filter":"datum.p==='C' && datum.g==='filled'"}],"mark":{"type":"circle","color":"black","size":50,"opacity":1},
  "encoding":{"x":{"field":"x","type":"quantitative","scale":{"domain":[0,10],"range":[55,375],"nice":false,"zero":false},"axis":null},"y":{"field":"v","type":"quantitative","scale":{"domain":[0,12],"range":[515,383],"nice":false,"zero":false},"axis":null}}},
 {"data":{"name":"means"},"transform":[{"filter":"datum.p==='C'"}],"mark":{"type":"rule","color":"black","strokeWidth":2},
  "encoding":{"x":{"field":"x0","type":"quantitative","scale":{"domain":[0,10],"range":[55,375],"nice":false,"zero":false},"axis":null},"x2":{"field":"x1"},"y":{"field":"m","type":"quantitative","scale":{"domain":[0,12],"range":[515,383],"nice":false,"zero":false},"axis":null}}},
 {"data":{"name":"means"},"transform":[{"filter":"datum.p==='C'"}],"mark":{"type":"rule","color":"black","strokeWidth":1.6},
  "encoding":{"x":{"field":"xc","type":"quantitative","scale":{"domain":[0,10],"range":[55,375],"nice":false,"zero":false},"axis":null},"y":{"field":"lo","type":"quantitative","scale":{"domain":[0,12],"range":[515,383],"nice":false,"zero":false},"axis":null},"y2":{"field":"hi"}}},
 {"data":{"name":"stars"},"transform":[{"filter":"datum.p==='C'"}],"mark":{"type":"text","fontSize":21,"fontWeight":"bold","align":"center","baseline":"alphabetic","color":"black","text":"*"},
  "encoding":{"x":{"field":"x","type":"quantitative","scale":{"domain":[0,10],"range":[55,375],"nice":false,"zero":false},"axis":null},"y":{"field":"y","type":"quantitative","scale":{"domain":[0,12],"range":[515,383],"nice":false,"zero":false},"axis":null}}},
 {"data":{"name":"cats"},"transform":[{"filter":"datum.p==='C'"}],"mark":{"type":"text","fontSize":20,"align":"center","baseline":"alphabetic","color":"black"},
  "encoding":{"x":{"field":"x","type":"quantitative","scale":{"domain":[0,10],"range":[55,375],"nice":false,"zero":false},"axis":null},"y":{"field":"y","type":"quantitative","scale":{"domain":[0,12],"range":[515,383],"nice":false,"zero":false},"axis":null},"text":{"field":"label"}}},
 {"data":{"name":"groups"},"transform":[{"filter":"datum.p==='C'"}],"mark":{"type":"text","fontSize":21,"fontWeight":"bold","align":"center","baseline":"alphabetic","color":"black"},
  "encoding":{"x":{"field":"x","type":"quantitative","scale":{"domain":[0,10],"range":[55,375],"nice":false,"zero":false},"axis":null},"y":{"field":"y","type":"quantitative","scale":{"domain":[0,12],"range":[515,383],"nice":false,"zero":false},"axis":null},"text":{"field":"label"}}},
 {"data":{"name":"legsym"},"transform":[{"filter":"datum.p==='C' && datum.g==='open'"}],"mark":{"type":"point","shape":"circle","filled":true,"fill":"white","stroke":"black","strokeWidth":1.3,"size":24,"opacity":1},
  "encoding":{"x":{"field":"x","type":"quantitative","scale":{"domain":[0,10],"range":[55,375],"nice":false,"zero":false},"axis":null},"y":{"field":"y","type":"quantitative","scale":{"domain":[0,12],"range":[515,383],"nice":false,"zero":false},"axis":null}}},
 {"data":{"name":"legsym"},"transform":[{"filter":"datum.p==='C' && datum.g==='filled'"}],"mark":{"type":"circle","color":"black","size":44,"opacity":1},
  "encoding":{"x":{"field":"x","type":"quantitative","scale":{"domain":[0,10],"range":[55,375],"nice":false,"zero":false},"axis":null},"y":{"field":"y","type":"quantitative","scale":{"domain":[0,12],"range":[515,383],"nice":false,"zero":false},"axis":null}}},
 {"data":{"name":"legtext"},"transform":[{"filter":"datum.p==='C'"}],"mark":{"type":"text","fontSize":22,"align":"left","baseline":"alphabetic","color":"black"},
  "encoding":{"x":{"field":"x","type":"quantitative","scale":{"domain":[0,10],"range":[55,375],"nice":false,"zero":false},"axis":null},"y":{"field":"y","type":"quantitative","scale":{"domain":[0,12],"range":[515,383],"nice":false,"zero":false},"axis":null},"text":{"field":"label"}}},
 {"data":{"name":"pletters"},"transform":[{"filter":"datum.p==='C'"}],"mark":{"type":"text","fontSize":26,"fontWeight":"bold","align":"left","baseline":"alphabetic","color":"black"},
  "encoding":{"x":{"field":"x","type":"quantitative","scale":{"domain":[0,10],"range":[55,375],"nice":false,"zero":false},"axis":null},"y":{"field":"y","type":"quantitative","scale":{"domain":[0,12],"range":[515,383],"nice":false,"zero":false},"axis":null},"text":{"field":"label"}}},
 {"data":{"name":"sep"},"transform":[{"filter":"datum.p==='D'"}],"mark":{"type":"rule","color":"#b8b8b8","strokeWidth":6},
  "encoding":{"x":{"field":"x","type":"quantitative","scale":{"domain":[0,10],"range":[412,732],"nice":false,"zero":false},"axis":null},"y":{"field":"y0","type":"quantitative","scale":{"domain":[0,50],"range":[515,383],"nice":false,"zero":false},"axis":null},"y2":{"field":"y1"}}},
 {"data":{"name":"hlines"},"transform":[{"filter":"datum.p==='D'"}],"mark":{"type":"rule","color":"black","strokeWidth":1.8},
  "encoding":{"x":{"field":"x0","type":"quantitative","scale":{"domain":[0,10],"range":[412,732],"nice":false,"zero":false},"axis":null},"x2":{"field":"x1"},"y":{"field":"y","type":"quantitative","scale":{"domain":[0,50],"range":[515,383],"nice":false,"zero":false},"axis":null}}},
 {"data":{"name":"points"},"transform":[{"filter":"datum.p==='D' && datum.g==='filled'"}],"mark":{"type":"circle","color":"black","size":50,"opacity":1},
  "encoding":{"x":{"field":"x","type":"quantitative","scale":{"domain":[0,10],"range":[412,732],"nice":false,"zero":false},"axis":null},"y":{"field":"v","type":"quantitative","scale":{"domain":[0,50],"range":[515,383],"nice":false,"zero":false},"axis":null}}},
 {"data":{"name":"means"},"transform":[{"filter":"datum.p==='D'"}],"mark":{"type":"rule","color":"black","strokeWidth":2},
  "encoding":{"x":{"field":"x0","type":"quantitative","scale":{"domain":[0,10],"range":[412,732],"nice":false,"zero":false},"axis":null},"x2":{"field":"x1"},"y":{"field":"m","type":"quantitative","scale":{"domain":[0,50],"range":[515,383],"nice":false,"zero":false},"axis":null}}},
 {"data":{"name":"means"},"transform":[{"filter":"datum.p==='D'"}],"mark":{"type":"rule","color":"black","strokeWidth":1.6},
  "encoding":{"x":{"field":"xc","type":"quantitative","scale":{"domain":[0,10],"range":[412,732],"nice":false,"zero":false},"axis":null},"y":{"field":"lo","type":"quantitative","scale":{"domain":[0,50],"range":[515,383],"nice":false,"zero":false},"axis":null},"y2":{"field":"hi"}}},
 {"data":{"name":"cats"},"transform":[{"filter":"datum.p==='D'"}],"mark":{"type":"text","fontSize":20,"align":"center","baseline":"alphabetic","color":"black"},
  "encoding":{"x":{"field":"x","type":"quantitative","scale":{"domain":[0,10],"range":[412,732],"nice":false,"zero":false},"axis":null},"y":{"field":"y","type":"quantitative","scale":{"domain":[0,50],"range":[515,383],"nice":false,"zero":false},"axis":null},"text":{"field":"label"}}},
 {"data":{"name":"groups"},"transform":[{"filter":"datum.p==='D'"}],"mark":{"type":"text","fontSize":21,"fontWeight":"bold","align":"center","baseline":"alphabetic","color":"black"},
  "encoding":{"x":{"field":"x","type":"quantitative","scale":{"domain":[0,10],"range":[412,732],"nice":false,"zero":false},"axis":null},"y":{"field":"y","type":"quantitative","scale":{"domain":[0,50],"range":[515,383],"nice":false,"zero":false},"axis":null},"text":{"field":"label"}}},
 {"data":{"name":"legsym"},"transform":[{"filter":"datum.p==='D' && datum.g==='open'"}],"mark":{"type":"point","shape":"circle","filled":true,"fill":"white","stroke":"black","strokeWidth":1.3,"size":24,"opacity":1},
  "encoding":{"x":{"field":"x","type":"quantitative","scale":{"domain":[0,10],"range":[412,732],"nice":false,"zero":false},"axis":null},"y":{"field":"y","type":"quantitative","scale":{"domain":[0,50],"range":[515,383],"nice":false,"zero":false},"axis":null}}},
 {"data":{"name":"legsym"},"transform":[{"filter":"datum.p==='D' && datum.g==='filled'"}],"mark":{"type":"circle","color":"black","size":44,"opacity":1},
  "encoding":{"x":{"field":"x","type":"quantitative","scale":{"domain":[0,10],"range":[412,732],"nice":false,"zero":false},"axis":null},"y":{"field":"y","type":"quantitative","scale":{"domain":[0,50],"range":[515,383],"nice":false,"zero":false},"axis":null}}},
 {"data":{"name":"legtext"},"transform":[{"filter":"datum.p==='D'"}],"mark":{"type":"text","fontSize":22,"align":"left","baseline":"alphabetic","color":"black"},
  "encoding":{"x":{"field":"x","type":"quantitative","scale":{"domain":[0,10],"range":[412,732],"nice":false,"zero":false},"axis":null},"y":{"field":"y","type":"quantitative","scale":{"domain":[0,50],"range":[515,383],"nice":false,"zero":false},"axis":null},"text":{"field":"label"}}},
 {"data":{"name":"pletters"},"transform":[{"filter":"datum.p==='D'"}],"mark":{"type":"text","fontSize":26,"fontWeight":"bold","align":"left","baseline":"alphabetic","color":"black"},
  "encoding":{"x":{"field":"x","type":"quantitative","scale":{"domain":[0,10],"range":[412,732],"nice":false,"zero":false},"axis":null},"y":{"field":"y","type":"quantitative","scale":{"domain":[0,50],"range":[515,383],"nice":false,"zero":false},"axis":null},"text":{"field":"label"}}}
]
}
